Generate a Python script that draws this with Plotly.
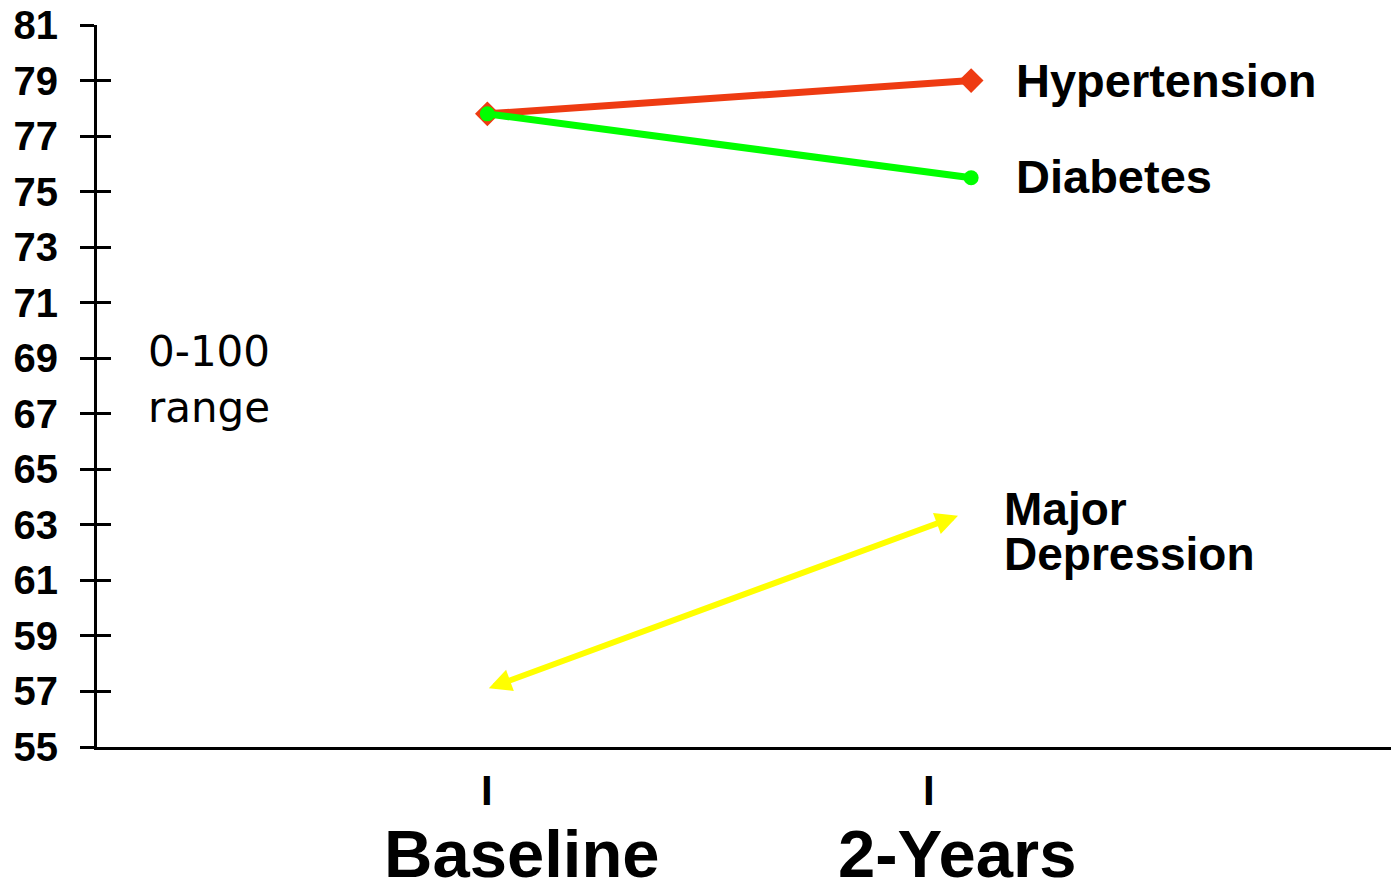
import plotly.graph_objects as go

# Time points (numeric positions on the x axis) and their labels
timepoints = [0, 1]
time_labels = ["Baseline", "2-Years"]

# Mean scores (0-100 scale) by condition
hypertension = [77.8, 79.0]
diabetes = [77.8, 75.5]
depression = [57.1, 63.5]

y_ticks = list(range(55, 82, 2))

RED = "#EE3B12"
GREEN = "#00FF00"
YELLOW = "#FFFF00"
SANS = "Liberation Sans, Arial, sans-serif"

fig = go.Figure()

fig.add_trace(go.Scatter(
    x=timepoints, y=hypertension, mode="lines+markers",
    line=dict(color=RED, width=7),
    marker=dict(symbol="diamond", size=19, color=RED),
    showlegend=False, hoverinfo="skip",
))
fig.add_trace(go.Scatter(
    x=timepoints, y=diabetes, mode="lines+markers",
    line=dict(color=GREEN, width=7),
    marker=dict(symbol="circle", size=15, color=GREEN),
    showlegend=False, hoverinfo="skip",
))
# empty trace so the overlaid axis (inner tick halves) is drawn
fig.add_trace(go.Scatter(x=[None], y=[None], yaxis="y2", showlegend=False, hoverinfo="skip"))

annotations = []

# Major Depression: double-headed arrow between the two time points
annotations.append(dict(
    x=timepoints[1], y=depression[1], ax=timepoints[0], ay=depression[0],
    xref="x", yref="y", axref="x", ayref="y",
    text="", showarrow=True, arrowside="end+start",
    arrowhead=2, startarrowhead=2, arrowsize=0.75, startarrowsize=0.75,
    arrowwidth=6, arrowcolor=YELLOW, standoff=14, startstandoff=0,
))

# Series labels at the right-hand end
annotations.append(dict(
    x=timepoints[1], y=hypertension[1], xref="x", yref="y", xanchor="left", yanchor="middle",
    xshift=43, text="Hypertension", showarrow=False,
    font=dict(family=SANS, size=47, color="black", weight="bold"),
))
annotations.append(dict(
    x=timepoints[1], y=diabetes[1], xref="x", yref="y", xanchor="left", yanchor="middle",
    xshift=43, yshift=1, text="Diabetes", showarrow=False,
    font=dict(family=SANS, size=47, color="black", weight="bold"),
))
annotations.append(dict(
    x=timepoints[1], y=depression[1], xref="x", yref="y", xanchor="left", yanchor="middle",
    xshift=31, yshift=2, text="Major", showarrow=False,
    font=dict(family=SANS, size=46, color="black", weight="bold"),
))
annotations.append(dict(
    x=timepoints[1], y=depression[1], xref="x", yref="y", xanchor="left", yanchor="middle",
    xshift=31, yshift=-43, text="Depression", showarrow=False,
    font=dict(family=SANS, size=46, color="black", weight="bold"),
))

# Scale note
annotations.append(dict(
    x=0.038, y=0.548, xref="paper", yref="paper", xanchor="left", yanchor="middle",
    text="0-100", showarrow=False,
    font=dict(family="DejaVu Sans, sans-serif", size=42, color="black"),
))
annotations.append(dict(
    x=0.038, y=0.47, xref="paper", yref="paper", xanchor="left", yanchor="middle",
    text="range", showarrow=False,
    font=dict(family="DejaVu Sans, sans-serif", size=42, color="black"),
))

# Time-point markers and labels below the axis
for xpos in [timepoints[0], timepoints[1] - 0.087]:
    annotations.append(dict(
        x=xpos, y=0, xref="x", yref="paper", xanchor="center", yanchor="top",
        yshift=-18, text="I", showarrow=False,
        font=dict(family=SANS, size=42, color="black", weight="bold"),
    ))
for xpos, label in [(timepoints[0] + 0.072, time_labels[0]), (timepoints[1] - 0.029, time_labels[1])]:
    annotations.append(dict(
        x=xpos, y=0, xref="x", yref="paper", xanchor="center", yanchor="top",
        yshift=-67, text=label, showarrow=False,
        font=dict(family=SANS, size=67, color="black", weight="bold"),
    ))

fig.update_layout(
    width=1391, height=878,
    margin=dict(l=96.5, r=0, t=25, b=131.4, pad=0),
    paper_bgcolor="white", plot_bgcolor="white",
    xaxis=dict(
        range=[-0.8068, 1.8678], showgrid=False, zeroline=False,
        showline=True, linecolor="black", linewidth=3,
        showticklabels=False, ticks="",
    ),
    yaxis=dict(
        range=[55, 81], tickvals=y_ticks, showgrid=False, zeroline=False,
        showline=True, linecolor="black", linewidth=3,
        ticks="outside", ticklen=14, tickwidth=3, tickcolor="black",
        ticklabelstandoff=14, ticklabeloverflow="allow",
        tickfont=dict(family=SANS, size=40, color="black", weight="bold"),
    ),
    yaxis2=dict(
        range=[55, 81], tickvals=y_ticks, overlaying="y", side="left", anchor="x",
        showgrid=False, zeroline=False, showline=False, showticklabels=False,
        ticks="inside", ticklen=14, tickwidth=3, tickcolor="black",
    ),
    annotations=annotations,
)

fig.write_html("out.html")
